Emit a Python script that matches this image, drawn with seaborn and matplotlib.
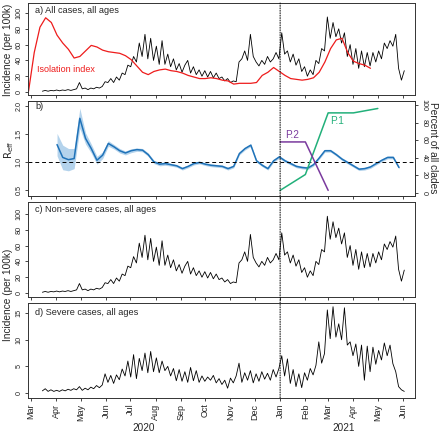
import matplotlib
matplotlib.use("Agg")
import matplotlib.pyplot as plt
import matplotlib.dates as mdates
from matplotlib.patches import ConnectionPatch
import seaborn as sns
import numpy as np
import pandas as pd

# daily-ish incidence series, sampled twice a week from 2020-03-15
case_start = "2020-03-15"
all_cases = [1, 2, 1, 2, 1.5, 2.5, 1.5, 2.5, 2, 3, 2, 3, 4,
             12,
             4, 5, 3, 5, 4, 6, 5, 7,
             13, 12, 17, 12, 19, 15, 24, 22,
             34, 32, 45, 38, 62, 45, 73, 42,
             68, 40, 58, 35, 65, 35, 48, 32,
             42, 28, 36, 25, 34, 40, 24, 32,
             22, 28, 20, 27, 19, 26, 18, 24,
             17, 19, 14, 17, 12, 14, 13, 38,
             42, 52, 40, 73, 45, 38, 33, 40,
             35, 45, 38, 42, 50, 42, 75, 48,
             52, 38, 48, 34, 42, 26, 32, 20,
             28, 22, 40, 36, 55, 52, 95, 68,
             88, 70, 80, 62, 75, 45, 60, 35,
             55, 30, 52, 32, 50, 33, 50, 38,
             52, 42, 62, 55, 65, 58, 73, 30,
             15, 27]
nonsevere_cases = [1, 2, 1, 2, 1.5, 2.5, 1.5, 2.5, 2, 3, 2, 3, 4,
                   12,
                   4, 5, 3, 5, 4, 6, 5, 7,
                   13, 12, 17, 12, 19, 15, 24, 22,
                   34, 32, 46, 38, 63, 45, 73, 42,
                   69, 40, 58, 35, 66, 35, 48, 32,
                   42, 28, 36, 25, 34, 40, 24, 32,
                   22, 28, 20, 27, 19, 26, 18, 24,
                   17, 19, 14, 17, 12, 14, 13, 38,
                   42, 52, 40, 74, 45, 38, 33, 40,
                   35, 45, 38, 42, 50, 42, 76, 48,
                   52, 38, 48, 34, 42, 26, 32, 20,
                   28, 22, 40, 36, 55, 52, 97, 68,
                   90, 70, 82, 62, 76, 45, 60, 35,
                   55, 30, 52, 32, 50, 33, 50, 38,
                   52, 42, 62, 55, 65, 58, 72, 30,
                   15, 29]
severe_cases = [0.4, 0.8, 0.3, 0.6, 0.3, 0.5, 0.3, 0.6, 0.4, 0.7, 0.5, 0.8, 0.6,
                1.2,
                0.5, 0.9, 0.6, 1.1, 0.8, 1.4, 1.0, 1.5,
                3.6, 2.0, 3.3, 1.8, 3.4, 2.5, 4.5, 3.2,
                6.0, 3.0, 7.2, 2.7, 6.5, 4.2, 7.5, 3.8,
                7.8, 4.0, 6.6, 3.8, 6.0, 4.2, 5.0, 3.2,
                4.6, 2.3, 4.4, 2.2, 4.0, 2.0, 4.8, 2.3,
                4.2, 2.0, 3.2, 2.2, 3.0, 2.4, 3.3, 1.9,
                2.7, 1.6, 2.4, 0.9, 2.8, 1.9, 3.2, 5.6,
                2.0, 3.8, 2.4, 4.2, 1.9, 3.6, 2.2, 4.0,
                2.6, 3.7, 2.4, 4.4, 3.0, 4.6, 7.0, 3.2,
                6.4, 1.8, 4.4, 1.2, 3.6, 1.0, 3.8, 2.4,
                4.6, 3.4, 5.2, 9.6, 5.6, 7.4, 15.6, 10.2,
                16.2, 10.5, 13.0, 10.0, 16.0, 9.0, 9.6, 7.0,
                9.2, 5.0, 9.0, 2.4, 8.8, 4.0, 8.6, 5.4,
                8.0, 6.2, 9.4, 7.0, 9.0, 5.5, 4.0, 1.2,
                0.6, 0.3]

# isolation index, weekly from 2020-02-27
iso_start = "2020-02-27"
isolation_index = [1, 50, 82, 94, 88, 72, 62, 54, 43, 45,
                   52, 59, 57, 53, 51, 50, 49, 46, 41, 33,
                   25, 22, 26, 28, 29, 27, 26, 24, 21, 19,
                   17, 17, 18, 17, 15, 14, 10, 11, 11, 11,
                   12, 21, 25, 31, 26, 21, 17, 16, 15, 16,
                   18, 25, 38, 55, 66, 68, 50, 39, 36, 34,
                   30]

# effective reproduction number, weekly from 2020-04-02
reff_start = "2020-04-02"
reff = [1.31, 1.08, 1.04, 1.06, 1.78, 1.42, 1.24, 1.03, 1.12, 1.33,
        1.27, 1.20, 1.16, 1.20, 1.22, 1.21, 1.13, 1.00, 0.96, 0.97,
        0.95, 0.93, 0.88, 0.92, 0.97, 0.99, 0.96, 0.94, 0.93, 0.92,
        0.88, 0.92, 1.15, 1.24, 1.30, 1.02, 0.94, 0.88, 1.02, 1.09,
        1.02, 0.97, 0.92, 0.90, 0.89, 0.95, 1.07, 1.20, 1.20, 1.13,
        1.05, 0.99, 0.93, 0.87, 0.88, 0.91, 0.97, 1.03, 1.08, 1.08,
        0.90]
reff_halfwidth = [0.20, 0.22, 0.20, 0.18, 0.18, 0.10, 0.08, 0.07, 0.06, 0.05,
                  0.04, 0.04, 0.035, 0.035, 0.03, 0.03, 0.03, 0.03, 0.03, 0.03] + [0.025] * 41

# clade shares (percent), monthly 2021
clade_months = ["2021-01-01", "2021-02-01", "2021-03-01", "2021-04-01", "2021-05-01"]
p1_share = [3, 21, 91, 91, 96]
p2_share = [58, 58, 3]

month_labels = ["Mar", "Apr", "May", "Jun", "Jul", "Aug", "Sep", "Oct", "Nov", "Dec",
                "Jan", "Feb", "Mar", "Apr", "May", "Jun"]

case_dates = pd.date_range(case_start, periods=len(all_cases), freq="84h")
iso_dates = pd.date_range(iso_start, periods=len(isolation_index), freq="7D")
reff_dates = pd.date_range(reff_start, periods=len(reff), freq="7D")
clade_dates = pd.to_datetime(clade_months)

sns.set_style("ticks")
plt.rcParams['font.family'] = ['Liberation Sans', 'DejaVu Sans']
plt.rcParams['axes.linewidth'] = 0.7
plt.rcParams['axes.edgecolor'] = '#333333'

W, H = 440, 434
fig = plt.figure(figsize=(4.4, 4.34), dpi=100)


def add_ax(top, bottom):
    return fig.add_axes([28 / W, 1 - bottom / H, (415 - 28) / W, (bottom - top) / H])


ax_a = add_ax(3, 95)
ax_b = add_ax(101, 196)
ax_c = add_ax(202, 297)
ax_d = add_ax(303, 398)

xlim = (pd.Timestamp("2020-02-26 08:00"), pd.Timestamp("2021-06-15 16:00"))
tick_dates = pd.date_range("2020-03-01", "2021-06-01", freq="MS")

# a) all cases + isolation index
sns.lineplot(x=case_dates, y=all_cases, ax=ax_a, color="black", linewidth=0.6)
sns.lineplot(x=iso_dates, y=isolation_index, ax=ax_a, color="#ee1c1c", linewidth=0.9)
ax_a.set_ylim(-3.8, 112.7)
ax_a.set_yticks([0, 20, 40, 60, 80, 100])
ax_a.text(pd.Timestamp("2020-03-09"), 28, "Isolation index", color="#ee1c1c",
          fontsize=6.5, va="center", ha="left")

# b) Reff with clade shares
lo = np.array(reff) - np.array(reff_halfwidth)
hi = np.array(reff) + np.array(reff_halfwidth)
ax_b.fill_between(reff_dates, lo, hi, color="#b4d3ec", linewidth=0)
sns.lineplot(x=reff_dates, y=reff, ax=ax_b, color="#1f72b8", linewidth=1.1)
ax_b.axhline(1.0, color="black", linestyle=(0, (4, 3)), linewidth=0.7)
ax_b.set_ylim(0.39, 2.09)
ax_b.set_yticks([0.5, 1.0, 1.5, 2.0])
ax_b2 = ax_b.twinx()
sns.lineplot(x=clade_dates, y=p1_share, ax=ax_b2, color="#22b07a", linewidth=1.1)
sns.lineplot(x=clade_dates[:3], y=p2_share, ax=ax_b2, color="#7a3a9e", linewidth=1.1)
ax_b2.set_ylim(-3.4, 104.5)
ax_b2.set_yticks([0, 20, 40, 60, 80, 100])
ax_b2.text(pd.Timestamp("2021-03-03"), 82, "P.1", color="#22b07a", fontsize=7.2, va="center")
ax_b2.text(pd.Timestamp("2021-01-07"), 66, "P.2", color="#7a3a9e", fontsize=7.2, va="center")
ax_b2.set_xlim(*xlim)
ax_b2.set_ylabel("")
ax_b2.tick_params(axis="y", direction="out", length=2.5, width=0.6, labelsize=5.2,
                  pad=1.5, labelrotation=270)
plt.setp(ax_b2.get_yticklabels(), va="center", ha="left")

# c) non-severe cases
sns.lineplot(x=case_dates, y=nonsevere_cases, ax=ax_c, color="black", linewidth=0.6)
ax_c.set_ylim(-5, 115)
ax_c.set_yticks([0, 20, 40, 60, 80, 100])

# d) severe cases
sns.lineplot(x=case_dates, y=severe_cases, ax=ax_d, color="black", linewidth=0.6)
ax_d.set_ylim(-0.94, 16.9)
ax_d.set_yticks([0, 5, 10, 15])

titles = ["a) All cases, all ages", "b)", "c) Non-severe cases, all ages", "d) Severe cases, all ages"]
title_y = [0.92, 0.94, 0.92, 0.905]
for ax, t, ty in zip([ax_a, ax_b, ax_c, ax_d], titles, title_y):
    ax.set_xlim(*xlim)
    ax.set_xticks(tick_dates)
    ax.set_xticklabels(month_labels)
    ax.set_xlabel("")
    ax.set_ylabel("")
    ax.tick_params(direction="out", length=2.5, width=0.6, pad=1.5)
    ax.tick_params(axis="y", labelrotation=90, labelsize=5.2)
    ax.tick_params(axis="x", labelsize=6.5)
    plt.setp(ax.get_yticklabels(), va="center")
    ax.text(0.018, ty, t, transform=ax.transAxes, fontsize=6.6, va="center", ha="left")
    for s in ax.spines.values():
        s.set_visible(True)
    if ax is not ax_d:
        ax.tick_params(axis="x", labelbottom=False)
ax_d.tick_params(axis="x", labelrotation=90)

# dotted line at the turn of the year through all panels
jan = mdates.date2num(pd.Timestamp("2021-01-01"))
con = ConnectionPatch(xyA=(jan, 1), coordsA=ax_a.get_xaxis_transform(),
                      xyB=(jan, 0), coordsB=ax_d.get_xaxis_transform(),
                      linestyle=(0, (1, 1.5)), color="black", linewidth=0.7)
fig.add_artist(con)

fig.text(8 / W, 1 - 50 / H, "Incidence (per 100k)", rotation=90, ha="center", va="center", fontsize=7.3)
fig.text(9 / W, 1 - 150 / H, r"$\mathrm{R_{eff}}$", rotation=90, ha="center", va="center", fontsize=7.3)
fig.text(8 / W, 1 - 295 / H, "Incidence (per 100k)", rotation=90, ha="center", va="center", fontsize=7.3)
fig.text(433 / W, 1 - 148 / H, "Percent of all clades", rotation=270, ha="center", va="center", fontsize=7.3)
fig.text(144 / W, 1 - 428 / H, "2020", ha="center", va="center", fontsize=7.2)
fig.text(344 / W, 1 - 428 / H, "2021", ha="center", va="center", fontsize=7.2)

fig.savefig("out.png", dpi=100)
